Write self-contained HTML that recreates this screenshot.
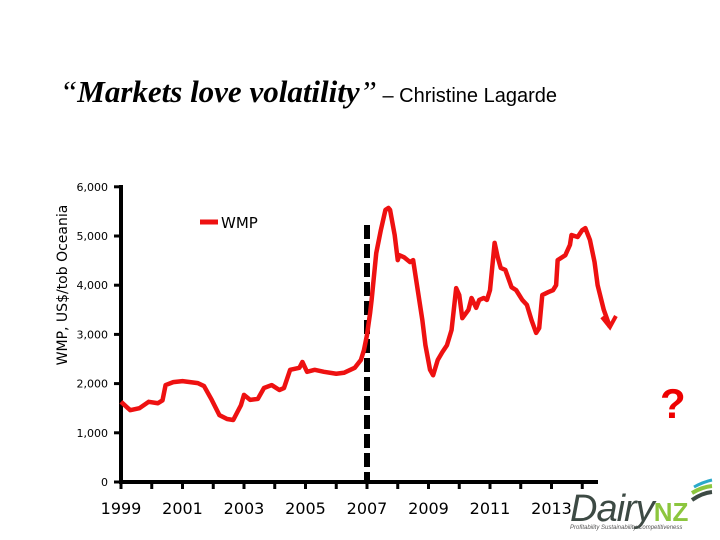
<!DOCTYPE html>
<html><head><meta charset="utf-8"><style>
body{margin:0;background:#fff;width:720px;height:540px;overflow:hidden;position:relative;font-family:"Liberation Sans",sans-serif}
.t{position:absolute;white-space:nowrap}
</style></head><body>
<div class="t" style="left:60px;top:74px;"><span style="font-family:'Liberation Serif',serif;font-size:31px;font-style:italic">“<b style="font-weight:bold">Markets love volatility</b>”</span><span style="font-size:20px"> – Christine Lagarde</span></div>
<svg width="720" height="540" style="position:absolute;left:0;top:0">
<g id="g"></g>
</svg>
<div class="t" style="left:660px;top:380px;color:#e00;font-size:42px;font-weight:bold">?</div>
<div class="t" style="left:570px;top:488px;">
<span style="font-size:38px;color:#3d4a44;font-style:italic;letter-spacing:-1px">Dairy</span><span style="font-size:26px;color:#8cc63e;font-weight:bold">NZ</span>
<div style="font-size:6px;color:#555;margin-top:-6px;font-style:italic">Profitability Sustainability Competitiveness</div></div>
<svg width="26" height="26" style="position:absolute;left:690px;top:478px"><path d="M4 9 Q13 4 22 2" stroke="#2aa9c9" stroke-width="3" fill="none"/><path d="M2 15 Q12 9 22 8" stroke="#8cc63e" stroke-width="4" fill="none"/><path d="M2 22 Q12 15 22 14" stroke="#3d4a44" stroke-width="4" fill="none"/></svg>
<script>
const years=[1999,1999.3,1999.6,1999.9,2000.2,2000.35,2000.45,2000.7,2001.0,2001.5,2001.7,2001.95,2002.2,2002.45,2002.65,2002.9,2003.0,2003.2,2003.45,2003.65,2003.9,2004.15,2004.3,2004.5,2004.8,2004.9,2005.05,2005.3,2005.6,2006.0,2006.25,2006.6,2006.8,2006.9,2007.0,2007.1,2007.15,2007.3,2007.45,2007.6,2007.7,2007.75,2007.9,2008.0,2008.05,2008.2,2008.4,2008.5,2008.65,2008.8,2008.9,2009.05,2009.15,2009.3,2009.45,2009.6,2009.75,2009.9,2010.0,2010.1,2010.3,2010.4,2010.55,2010.65,2010.8,2010.9,2011.0,2011.15,2011.25,2011.35,2011.5,2011.7,2011.85,2012.05,2012.2,2012.35,2012.5,2012.6,2012.7,2012.9,2013.05,2013.15,2013.2,2013.45,2013.6,2013.65,2013.85,2014.0,2014.1,2014.25,2014.4,2014.5,2014.7,2014.9];
const wmp=[1630,1460,1500,1630,1600,1660,1970,2030,2050,2010,1950,1670,1360,1280,1260,1560,1770,1670,1690,1910,1970,1870,1910,2280,2320,2440,2240,2280,2240,2200,2220,2320,2480,2680,2990,3430,3700,4650,5120,5530,5570,5530,5020,4510,4610,4570,4470,4510,3900,3290,2780,2280,2170,2480,2640,2780,3090,3940,3800,3330,3500,3740,3540,3700,3740,3700,3900,4860,4570,4350,4310,3960,3900,3700,3600,3290,3030,3130,3800,3860,3900,4000,4510,4610,4820,5020,4980,5120,5160,4920,4470,4000,3500,3150];
const yTicks=[0,1000,2000,3000,4000,5000,6000];
const yTickLabels=["0","1,000","2,000","3,000","4,000","5,000","6,000"];
const xLabels=[1999,2001,2003,2005,2007,2009,2011,2013];
const X=v=>121+(v-1999)*30.75, Y=v=>482-v*0.0492;
const g=document.getElementById('g'),NS='http://www.w3.org/2000/svg';
function mk(t,a,txt){const e=document.createElementNS(NS,t);for(const k in a)e.setAttribute(k,a[k]);if(txt!=null)e.textContent=txt;g.appendChild(e);return e;}
let e;
e=mk('line',{x1:121,y1:185,x2:121,y2:484,stroke:'#000','stroke-width':4});

e=mk('line',{x1:119,y1:482,x2:598,y2:482,stroke:'#000','stroke-width':4});

yTicks.forEach((v,i)=>{
 e=mk('line',{x1:114,y1:Y(v),x2:121,y2:Y(v),stroke:'#000','stroke-width':3});
 
 e=mk('text',{x:108,y:Y(v)+4,'text-anchor':'end','font-size':11,'font-family':'DejaVu Sans,sans-serif'},yTickLabels[i]);
 
});
for(let yr=1999;yr<=2014;yr++){
 e=mk('line',{x1:X(yr),y1:482,x2:X(yr),y2:489,stroke:'#000','stroke-width':3});
 
}
xLabels.forEach(v=>{
 e=mk('text',{x:X(v),y:514,'text-anchor':'middle','font-size':16,'font-family':'DejaVu Sans,sans-serif'},String(v));
 
});
e=mk('text',{x:0,y:0,transform:'translate(67,285) rotate(-90)','text-anchor':'middle','font-size':14,'font-family':'DejaVu Sans,sans-serif'},'WMP, US$/tob Oceania');

e=mk('line',{x1:X(2007),y1:225,x2:X(2007),y2:482,stroke:'#000','stroke-width':6,'stroke-dasharray':'14,5'});

e=mk('polyline',{points:years.map((y,i)=>X(y)+','+Y(wmp[i])).join(' '),fill:'none',stroke:'#ee1111','stroke-width':4.5,'stroke-linejoin':'round'});

const n=years.length-1,ex=X(years[n]),ey=Y(wmp[n]);
e=mk('polyline',{points:`${ex-8},${ey-10} ${ex},${ey} ${ex+6},${ey-11}`,fill:'none',stroke:'#ee1111','stroke-width':4});

e=mk('line',{x1:200,y1:222,x2:218,y2:222,stroke:'#ee1111','stroke-width':5});

e=mk('text',{x:221,y:228,'font-size':15,'font-family':'DejaVu Sans,sans-serif'},'WMP');

</script>
</body></html>
